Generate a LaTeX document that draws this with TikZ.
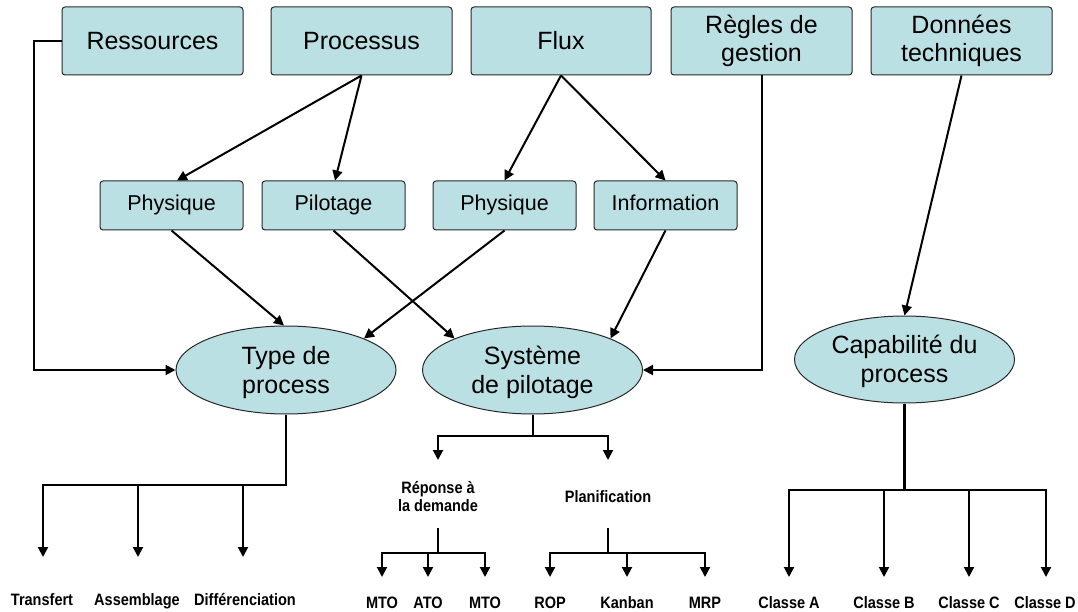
\documentclass[tikz,border=0pt]{standalone}
\usepackage{fontspec}
\setmainfont{Liberation Sans}
\newfontfamily\lblfont[FakeStretch=0.88]{Liberation Sans}
\usetikzlibrary{arrows.meta,shapes.geometric,calc}
\definecolor{boxfill}{RGB}{187,224,227}
\definecolor{boxline}{RGB}{40,40,40}
\begin{document}
\begin{tikzpicture}[x=1pt,y=-1pt,
  topbox/.style={draw=boxline, line width=1pt, fill=boxfill, rounded corners=3pt,
    minimum width=181pt, minimum height=68pt, inner sep=0pt, align=center,
    font=\fontsize{25}{28.5}\selectfont},
  midbox/.style={draw=boxline, line width=1pt, fill=boxfill, rounded corners=3pt,
    minimum width=143pt, minimum height=49pt, inner sep=0pt, align=center,
    text height=15.5pt, text depth=4.5pt,
    font=\fontsize{21.5}{25}\selectfont},
  ell/.style={ellipse, draw=boxline, line width=1pt, fill=boxfill,
    minimum width=220pt, minimum height=88pt, inner sep=0pt, align=center,
    font=\fontsize{25}{30}\selectfont},
  lbl/.style={font=\lblfont\bfseries\fontsize{16.5}{18}\selectfont, inner sep=0pt, align=center},
  conn/.style={line width=2pt},
  arr/.style={conn, -{Triangle[length=10pt,width=10pt]}}]

\useasboundingbox (0,0) rectangle (1078,612);

% top row
\node[topbox] (res) at (152.5,41) {Ressources};
\node[topbox] (proc) at (361.5,41) {Processus};
\node[topbox, minimum width=180pt] (flux) at (561,41) {Flux};
\node[topbox] (reg) at (761.5,41) {Règles de\\gestion};
\node[topbox] (don) at (961.5,41) {Données\\techniques};

% middle row
\node[midbox] (ph1) at (171.5,205.5) {Physique};
\node[midbox] (pil) at (333.5,205.5) {Pilotage};
\node[midbox] (ph2) at (504.5,205.5) {Physique};
\node[midbox] (inf) at (665.5,205.5) {Information};

% ellipses
\node[ell] (typ) at (286,370) {\raisebox{-3pt}[\height][\depth]{\begin{tabular}{@{}c@{}}Type de\\[-1pt]process\end{tabular}}};
\node[ell] (sys) at (532.5,370) {\raisebox{-3pt}[\height][\depth]{\begin{tabular}{@{}c@{}}Système\\[-1pt]de pilotage\end{tabular}}};
\node[ell, minimum height=87pt] (cap) at (904.5,359.5) {\raisebox{-2pt}[\height][\depth]{\begin{tabular}{@{}c@{}}Capabilité du\\[-1pt]process\end{tabular}}};

% upper connectors
\draw[arr] (proc.south) -- ([xshift=5.5pt]ph1.north);
\draw[arr] (proc.south) -- ([xshift=1.5pt]pil.north);
\draw[arr] (flux.south) -- (ph2.north);
\draw[arr] (flux.south) -- (inf.north);
\draw[arr] (ph1.south) -- ([xshift=-2pt]typ.north);
\draw[arr] (ph2.south) -- (typ.22);
\draw[arr] (pil.south) -- (sys.158);
\draw[arr] (inf.south) -- (sys.22);
\draw[arr] (don.south) -- (cap.north);
\draw[arr] (reg.south) |- (sys.east);
\draw[arr] (res.west) -- ++(-28,0) |- (typ.west);

% type de process tree
\coordinate (tj) at (286,485);
\coordinate (t1) at (43,557);
\coordinate (t2) at (138,557);
\coordinate (t3) at (243,557);
\draw[arr] (typ.south) -- (tj) -| (t1);
\draw[arr] (tj -| t2) -- (t2);
\draw[arr] (tj -| t3) -- (t3);
\node[lbl, anchor=base] (l1) at (42,605) {Transfert};
\node[lbl, anchor=base] (l2) at (137,605) {Assemblage};
\node[lbl, anchor=base] (l3) at (245,605) {Différenciation};

% systeme de pilotage tree
\coordinate (sj) at (532.5,436);
\coordinate (r0) at (438,460);
\coordinate (p0) at (608,460);
\draw[arr] (sys.south) -- (sj) -| (r0);
\draw[arr] (sj) -| (p0);
\node[lbl] (rep) at (438,497) {Réponse à\\la demande};
\node[lbl] (pla) at (608,497) {Planification};

\coordinate (rj0) at (438,528);
\coordinate (rj) at (438,553);
\coordinate (m1) at (382,577);
\coordinate (m2) at (428,577);
\coordinate (m3) at (485,577);
\draw[arr] (rj0) -- (rj) -| (m1);
\draw[arr] (rj) -| (m3);
\draw[arr] (rj -| m2) -- (m2);
\node[lbl, anchor=base] (lm1) at (382,608) {MTO};
\node[lbl, anchor=base] (lm2) at (428,608) {ATO};
\node[lbl, anchor=base] (lm3) at (485,608) {MTO};

\coordinate (pj0) at (608,528);
\coordinate (pj) at (608,553);
\coordinate (q1) at (550,577);
\coordinate (q2) at (627,577);
\coordinate (q3) at (705,577);
\draw[arr] (pj0) -- (pj) -| (q1);
\draw[arr] (pj) -| (q3);
\draw[arr] (pj -| q2) -- (q2);
\node[lbl, anchor=base] (lq1) at (550,608) {ROP};
\node[lbl, anchor=base] (lq2) at (627,608) {Kanban};
\node[lbl, anchor=base] (lq3) at (705,608) {MRP};

% capabilite tree
\coordinate (cj) at (904.5,490);
\coordinate (c1) at (789,577);
\coordinate (c2) at (884,577);
\coordinate (c3) at (969,577);
\coordinate (c4) at (1046,577);
\draw[line width=2.6pt] (cap.south) -- (cj);
\draw[arr] (cj) -| (c1);
\draw[arr] (cj) -| (c4);
\draw[arr] (cj -| c2) -- (c2);
\draw[arr] (cj -| c3) -- (c3);
\node[lbl, anchor=base] (lc1) at (789,608.5) {Classe A};
\node[lbl, anchor=base] (lc2) at (884,608.5) {Classe B};
\node[lbl, anchor=base] (lc3) at (969,608.5) {Classe C};
\node[lbl, anchor=base] (lc4) at (1045,608.5) {Classe D};
\end{tikzpicture}
\end{document}
